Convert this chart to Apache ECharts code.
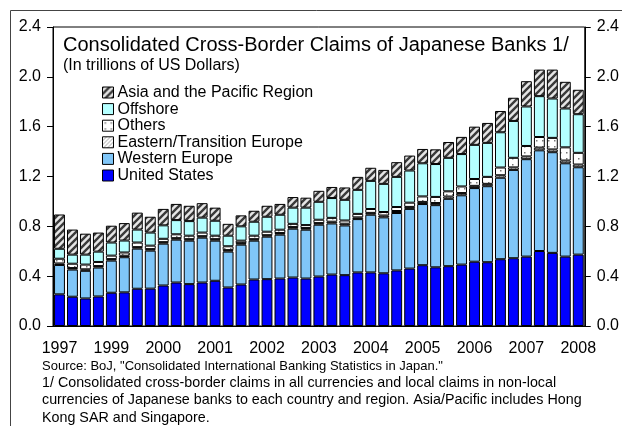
<!DOCTYPE html>
<html>
<head>
<meta charset="utf-8">
<script src="https://cdn.jsdelivr.net/npm/echarts@6/dist/echarts.min.js"></script>
<style>
  html, body { margin: 0; padding: 0; background: #fff; }
  #demo { width: 622px; height: 426px; }
</style>
</head>
<body>
<div id="demo"></div>
<script>
// quarterly data, trillions of US dollars
var yearLabels = ['1997', '1999', '2000', '2001', '2002', '2003', '2004', '2005', '2006', '2007', '2008'];

var unitedStates = [0.254, 0.235, 0.221, 0.237, 0.267, 0.270, 0.299, 0.300, 0.325, 0.349,
  0.336, 0.349, 0.363, 0.309, 0.333, 0.373, 0.376, 0.381, 0.389, 0.381,
  0.397, 0.413, 0.408, 0.430, 0.430, 0.423, 0.446, 0.461, 0.488, 0.471,
  0.480, 0.493, 0.516, 0.512, 0.536, 0.544, 0.557, 0.602, 0.587, 0.557, 0.573];
var westernEurope = [0.236, 0.218, 0.222, 0.232, 0.258, 0.282, 0.322, 0.305, 0.336, 0.344,
  0.349, 0.360, 0.322, 0.288, 0.320, 0.312, 0.341, 0.352, 0.392, 0.392,
  0.416, 0.410, 0.399, 0.428, 0.463, 0.449, 0.461, 0.479, 0.491, 0.499,
  0.541, 0.556, 0.591, 0.610, 0.654, 0.709, 0.782, 0.808, 0.808, 0.749, 0.701];
var easternEurope = [0.012, 0.012, 0.012, 0.012, 0.012, 0.012, 0.012, 0.012, 0.012, 0.012,
  0.012, 0.012, 0.012, 0.012, 0.012, 0.012, 0.012, 0.013, 0.013, 0.013,
  0.013, 0.014, 0.014, 0.014, 0.015, 0.015, 0.016, 0.016, 0.017, 0.017,
  0.018, 0.018, 0.018, 0.019, 0.020, 0.020, 0.022, 0.022, 0.022, 0.022, 0.022];
var others = [0.038, 0.035, 0.038, 0.033, 0.028, 0.026, 0.037, 0.028, 0.027, 0.031,
  0.028, 0.029, 0.028, 0.031, 0.020, 0.028, 0.028, 0.027, 0.026, 0.024,
  0.027, 0.031, 0.026, 0.028, 0.031, 0.028, 0.032, 0.034, 0.044, 0.049,
  0.042, 0.053, 0.055, 0.056, 0.062, 0.077, 0.084, 0.085, 0.093, 0.106, 0.094];
var offshore = [0.080, 0.073, 0.080, 0.083, 0.105, 0.096, 0.104, 0.105, 0.108, 0.114,
  0.117, 0.120, 0.120, 0.085, 0.115, 0.112, 0.120, 0.120, 0.130, 0.140,
  0.144, 0.159, 0.166, 0.193, 0.226, 0.226, 0.242, 0.258, 0.266, 0.264,
  0.269, 0.260, 0.274, 0.273, 0.283, 0.296, 0.317, 0.328, 0.316, 0.312, 0.310];
var asiaPacific = [0.275, 0.201, 0.168, 0.153, 0.135, 0.140, 0.136, 0.127, 0.132, 0.130,
  0.123, 0.116, 0.105, 0.095, 0.088, 0.088, 0.088, 0.087, 0.085, 0.080,
  0.088, 0.089, 0.099, 0.104, 0.105, 0.112, 0.118, 0.120, 0.115, 0.118,
  0.127, 0.138, 0.146, 0.160, 0.171, 0.186, 0.203, 0.213, 0.232, 0.214, 0.196];

var quarters = unitedStates.map(function (v, i) { return 'q' + i; });

var FONT = 'Arial, "Liberation Sans", sans-serif';

// fill patterns
function makePattern(kind) {
  var c = document.createElement('canvas');
  var ctx = c.getContext('2d');
  var s;
  if (kind === 'asia') {
    s = 7;
    c.width = s; c.height = s;
    ctx.fillStyle = '#e6e6e6';
    ctx.fillRect(0, 0, s, s);
    ctx.strokeStyle = '#3a3a3a';
    ctx.lineWidth = 2.4;
    ctx.beginPath();
    ctx.moveTo(-1, s + 1); ctx.lineTo(s + 1, -1);
    ctx.moveTo(-s / 2 - 1, s / 2 + 1); ctx.lineTo(s / 2 + 1, -s / 2 - 1);
    ctx.moveTo(s / 2 - 1, s * 1.5 + 1); ctx.lineTo(s * 1.5 + 1, s / 2 - 1);
    ctx.stroke();
  } else if (kind === 'ee') {
    s = 4;
    c.width = s; c.height = s;
    ctx.fillStyle = '#fff';
    ctx.fillRect(0, 0, s, s);
    ctx.strokeStyle = '#a0a0a0';
    ctx.lineWidth = 1;
    ctx.beginPath();
    ctx.moveTo(0, s); ctx.lineTo(s, 0);
    ctx.stroke();
  } else {
    s = 6;
    c.width = s; c.height = s;
    ctx.fillStyle = '#fff';
    ctx.fillRect(0, 0, s, s);
    ctx.fillStyle = '#777';
    ctx.fillRect(2, 2, 1.5, 1.5);
  }
  return { image: c, repeat: 'repeat' };
}

var bars = [
  { name: 'United States', data: unitedStates, color: '#0000ff' },
  { name: 'Western Europe', data: westernEurope, color: '#80c6f8' },
  { name: 'Eastern/Transition Europe', data: easternEurope, color: makePattern('ee') },
  { name: 'Others', data: others, color: makePattern('others') },
  { name: 'Offshore', data: offshore, color: '#b4ffff' },
  { name: 'Asia and the Pacific Region', data: asiaPacific, color: makePattern('asia') }
];

var yAxisBase = {
  type: 'value',
  min: 0,
  max: 2.4,
  interval: 0.4,
  axisLine: { show: true, lineStyle: { color: '#000', width: 1 } },
  axisTick: { show: true, length: 6, lineStyle: { color: '#000' } },
  splitLine: { show: false },
  axisLabel: {
    color: '#000', fontSize: 16, fontFamily: FONT, margin: 12,
    formatter: function (v) { return v.toFixed(1); }
  }
};

function note(text, y, size) {
  return {
    type: 'text', x: 42, y: y,
    style: { text: text, font: size + 'px ' + FONT, fill: '#000', verticalAlign: 'middle' }
  };
}

var option = {
  animation: false,
  backgroundColor: '#fff',
  grid: {
    left: 53, right: 36, top: 27, bottom: 100,
    show: true, borderColor: '#000', borderWidth: 1
  },
  legend: {
    data: ['Asia and the Pacific Region', 'Offshore', 'Others',
      'Eastern/Transition Europe', 'Western Europe', 'United States'],
    orient: 'vertical',
    left: 102,
    top: 84.5,
    padding: 0,
    itemGap: 0.6,
    itemWidth: 11,
    itemHeight: 11,
    icon: 'rect',
    textStyle: { color: '#000', fontSize: 16, fontFamily: FONT, lineHeight: 16, padding: [0, 0, 0, -1] },
    itemStyle: { borderColor: '#000', borderWidth: 1 }
  },
  xAxis: {
    type: 'category',
    data: quarters,
    axisLine: { show: true, lineStyle: { color: '#000', width: 1 } },
    axisTick: { show: false },
    axisLabel: {
      interval: 0,
      color: '#000', fontSize: 16, fontFamily: FONT, margin: 15,
      formatter: function (v, i) { return i % 4 === 0 ? yearLabels[i / 4] : ''; }
    }
  },
  yAxis: [
    Object.assign({ position: 'left' }, yAxisBase),
    Object.assign({ position: 'right' }, yAxisBase)
  ],
  series: bars.map(function (b) {
    return {
      name: b.name,
      type: 'bar',
      stack: 'claims',
      barCategoryGap: '16%',
      data: b.data,
      itemStyle: { color: b.color, borderColor: '#000', borderWidth: 1 }
    };
  }),
  graphic: [
    {
      type: 'rect', silent: true, z: -10,
      shape: { x: 10.5, y: 10.5, width: 700, height: 500 },
      style: { fill: 'none', stroke: '#444', lineWidth: 1 }
    },
    {
      type: 'text', x: 63, y: 45,
      style: { text: 'Consolidated Cross-Border Claims of Japanese Banks 1/', font: '20px ' + FONT, fill: '#000', verticalAlign: 'middle' }
    },
    {
      type: 'text', x: 63, y: 66,
      style: { text: '(In trillions of US Dollars)', font: '16px ' + FONT, fill: '#000', verticalAlign: 'middle' }
    },
    note('Source: BoJ, "Consolidated International Banking Statistics in Japan."', 366, 13),
    note('1/ Consolidated cross-border claims in all currencies and local claims in non-local', 383, 14.3),
    note('currencies of Japanese banks to each country and region. Asia/Pacific includes Hong', 400.5, 14.3),
    note('Kong SAR and Singapore.', 418, 14.3)
  ]
};

var myChart = echarts.init(document.getElementById('demo'));
myChart.setOption(option);
</script>
</body>
</html>
